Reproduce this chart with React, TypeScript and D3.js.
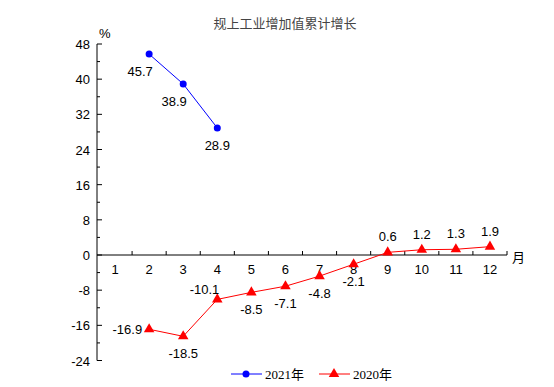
import React from 'react';
import * as d3 from 'd3';

const months = ['1', '2', '3', '4', '5', '6', '7', '8', '9', '10', '11', '12'];
const yTicks = [-24, -16, -8, 0, 8, 16, 24, 32, 40, 48];

const months2021 = ['2', '3', '4'];
const values2021 = [45.7, 38.9, 28.9];

const months2020 = ['2', '3', '4', '5', '6', '7', '8', '9', '10', '11', '12'];
const values2020 = [-16.9, -18.5, -10.1, -8.5, -7.1, -4.8, -2.1, 0.6, 1.2, 1.3, 1.9];

// where each value label sits relative to its point
const place2021 = ['below-left', 'below-left', 'below'];
const place2020 = ['left', 'below', 'above-left', 'below', 'below', 'below', 'below', 'above', 'above', 'above', 'above'];

const W = 554;
const H = 387;

const x = d3.scaleBand<string>().domain(months).range([98, 507]);
const y = d3.scaleLinear().domain([-24, 48]).range([360.5, 44]);
const cx = (m: string) => (x(m) as number) + x.bandwidth() / 2;

const labelFont = '"Liberation Sans", Arial, sans-serif';

function labelPos(px: number, py: number, p: string): [number, number, string] {
  if (p === 'above') return [px, py - 11, 'middle'];
  if (p === 'below') return [px, py + 22, 'middle'];
  if (p === 'left') return [px - 7, py + 5, 'end'];
  if (p === 'above-left') return [px + 2, py - 5, 'end'];
  if (p === 'below-left') return [px - 9, py + 22, 'middle'];
  return [px, py, 'middle'];
}

export default function App() {
  const line = d3.line<[string, number]>()
    .x((d) => cx(d[0]))
    .y((d) => y(d[1]));
  const s2021 = months2021.map((m, i) => [m, values2021[i]] as [string, number]);
  const s2020 = months2020.map((m, i) => [m, values2020[i]] as [string, number]);
  const tri = d3.symbol().type(d3.symbolTriangle).size(48)() as string;
  const minorTicks = d3.range(-24, 48, 4).filter((v) => v % 8 !== 0);
  const bandEdges = months.slice(1).map((m) => x(m) as number).concat([x.range()[1]]);
  const x0 = x.range()[0] - 1;
  const y0 = y(0);

  return (
    <svg width={W} height={H} style={{ position: 'absolute', left: 0, top: 0, background: '#fff' }}>
      <text x={285} y={28} textAnchor="middle" fontSize={13} fill="#444"
        fontFamily='"Noto Sans CJK SC", sans-serif'>规上工业增加值累计增长</text>

      {/* y axis */}
      <line x1={x0} x2={x0} y1={y(48)} y2={y(-24)} stroke="#000" />
      {yTicks.map((t) => (
        <g key={t}>
          <line x1={x0} x2={x0 + 5} y1={y(t)} y2={y(t)} stroke="#000" />
          <text x={x0 - 7} y={y(t) + 5} textAnchor="end" fontSize={13} fontFamily={labelFont}>{t}</text>
        </g>
      ))}
      {minorTicks.map((t) => (
        <line key={t} x1={x0} x2={x0 + 3} y1={y(t)} y2={y(t)} stroke="#000" />
      ))}
      <text x={x0 + 2} y={y(48) - 6} fontSize={13} fontFamily={labelFont}>%</text>

      {/* x axis */}
      <line x1={x0} x2={x.range()[1]} y1={y0} y2={y0} stroke="#000" />
      {bandEdges.map((e, i) => (
        <line key={i} x1={e} x2={e} y1={y0} y2={y0 - 4} stroke="#000" />
      ))}
      {months.map((m) => (
        <text key={m} x={cx(m)} y={y0 + 19} textAnchor="middle" fontSize={13} fontFamily={labelFont}>{m}</text>
      ))}
      <text x={x.range()[1] + 5} y={y0 + 7} fontSize={13} fontFamily='"Noto Sans CJK SC", sans-serif'>月</text>

      {/* 2021 */}
      <path d={line(s2021) as string} fill="none" stroke="#0000ff" strokeWidth={1} />
      {s2021.map((d, i) => {
        const [lx, ly, a] = labelPos(cx(d[0]), y(d[1]), place2021[i]);
        return (
          <g key={d[0]}>
            <circle cx={cx(d[0])} cy={y(d[1])} r={3.5} fill="#0000ff" />
            <text x={lx} y={ly} textAnchor={a} fontSize={13} fontFamily={labelFont}>{d[1].toFixed(1)}</text>
          </g>
        );
      })}

      {/* 2020 */}
      <path d={line(s2020) as string} fill="none" stroke="#ff0000" strokeWidth={1} />
      {s2020.map((d, i) => {
        const [lx, ly, a] = labelPos(cx(d[0]), y(d[1]), place2020[i]);
        return (
          <g key={d[0]}>
            <path d={tri} transform={`translate(${cx(d[0])},${y(d[1])})`} fill="#ff0000" />
            <text x={lx} y={ly} textAnchor={a} fontSize={13} fontFamily={labelFont}>{d[1].toFixed(1)}</text>
          </g>
        );
      })}

      {/* legend */}
      <g fontFamily='"Liberation Serif", "Noto Sans CJK SC", serif' fontSize={13}>
        <line x1={231} x2={262} y1={374} y2={374} stroke="#0000ff" />
        <circle cx={246} cy={374} r={3.5} fill="#0000ff" />
        <text x={265} y={379}>2021年</text>
        <line x1={319} x2={350} y1={374} y2={374} stroke="#ff0000" />
        <path d={tri} transform="translate(334,374)" fill="#ff0000" />
        <text x={353} y={379}>2020年</text>
      </g>
    </svg>
  );
}
